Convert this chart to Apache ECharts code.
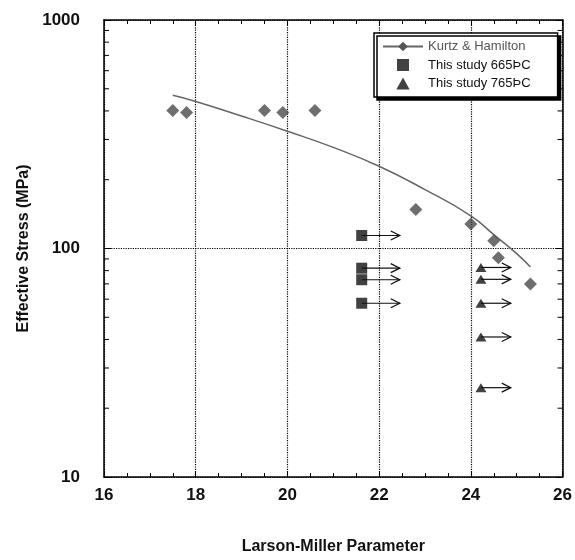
<!DOCTYPE html>
<html>
<head>
<meta charset="utf-8">
<script src="https://cdn.jsdelivr.net/npm/echarts@6/dist/echarts.min.js"></script>
<style>
html, body { margin: 0; background: #fff; }
#main { width: 575px; height: 560px; }
</style>
</head>
<body>
<div id="main"></div>
<script>
// Kurtz & Hamilton data points
const kurtzX = [17.5, 17.8, 19.5, 19.9, 20.6, 22.8, 24.0, 24.5, 24.6, 25.3]
const kurtzY = [402, 394, 402, 394, 402, 148, 128, 108, 91, 70]
// fitted curve
const fitX = [17.5, 18, 19, 20, 21, 22, 23, 24, 24.5, 25, 25.3]
const fitY = [468, 440, 380, 326, 277, 229, 181, 139, 115, 95, 83]
// this study 665 (runout, arrows)
const sqX = [21.62, 21.62, 21.62, 21.62]
const sqY = [114, 82, 73, 57.6]
const sqArrowEnd = [22.45, 22.45, 22.45, 22.45]
// this study 765
const triX = [24.22, 24.22, 24.22, 24.22, 24.22]
const triY = [82.6, 73.3, 57.6, 41, 24.6]
const triArrowEnd = [24.87, 24.87, 24.87, 24.87, 24.87]
// log minor ticks
const yMinor = [20, 30, 40, 50, 60, 70, 80, 90, 200, 300, 400, 500, 600, 700, 800, 900]

const font = 'Liberation Sans, Arial, sans-serif'

function arrowItem(params, api) {
  const s = api.coord([api.value(0), api.value(1)])
  const e = api.coord([api.value(2), api.value(1)])
  return {
    type: 'group',
    children: [
      { type: 'line', shape: { x1: s[0], y1: s[1], x2: e[0], y2: e[1] }, style: { stroke: '#111', lineWidth: 1.2 } },
      {
        type: 'polyline',
        shape: { points: [[e[0] - 9, e[1] - 4.5], [e[0], e[1]], [e[0] - 9, e[1] + 4.5]] },
        style: { stroke: '#111', fill: null, lineWidth: 1.3 },
      },
    ],
  }
}

function minorTickItem(params, api) {
  const cs = params.coordSys
  const p = api.coord([16, api.value(1)])
  return {
    type: 'group',
    children: [
      { type: 'line', shape: { x1: cs.x, y1: p[1], x2: cs.x + 5, y2: p[1] }, style: { stroke: '#000', lineWidth: 1 } },
      { type: 'line', shape: { x1: cs.x + cs.width - 5, y1: p[1], x2: cs.x + cs.width, y2: p[1] }, style: { stroke: '#000', lineWidth: 1 } },
    ],
  }
}

const myChart = echarts.init(document.getElementById('main'))
myChart.setOption({
  animation: false,
  backgroundColor: '#fff',
  grid: { left: 104, right: 10, top: 20, bottom: 80, containLabel: false },
  legend: {
    orient: 'vertical',
    left: 374,
    top: 33,
    padding: [7, 27, 7, 8],
    itemWidth: 40,
    itemHeight: 12,
    itemGap: 5.5,
    symbolKeepAspect: true,
    backgroundColor: '#fff',
    borderColor: '#000',
    borderWidth: 1.5,
    borderRadius: 0,
    shadowColor: '#000',
    shadowBlur: 0,
    shadowOffsetX: 3,
    shadowOffsetY: 3,
    textStyle: { fontFamily: font, fontSize: 13, color: '#111' },
    data: [
      { name: 'Kurtz & Hamilton', textStyle: { color: '#555' } },
      { name: 'This study 665ÞC', icon: 'path://M0,0h10v10h-10z' },
      { name: 'This study 765ÞC', icon: 'path://M5,1L10,10L0,10z' },
    ],
  },
  xAxis: [
    {
      type: 'value',
      min: 16,
      max: 26,
      interval: 2,
      name: 'Larson-Miller Parameter',
      nameLocation: 'middle',
      nameGap: 62,
      nameTextStyle: { fontFamily: font, fontSize: 16, fontWeight: 'bold', color: '#111' },
      axisLine: { lineStyle: { color: '#000', width: 1.5 } },
      axisTick: { inside: true, length: 6, lineStyle: { color: '#000' } },
      minorTick: { show: true, splitNumber: 4, length: 4, lineStyle: { color: '#000' } },
      axisLabel: { fontFamily: font, fontSize: 17, fontWeight: 'bold', color: '#111', margin: 10 },
      splitLine: { show: true, lineStyle: { type: 'dotted', color: '#000', width: 1.2 } },
    },
    {
      type: 'value',
      position: 'top',
      min: 16,
      max: 26,
      interval: 2,
      axisLine: { lineStyle: { color: '#000', width: 1.5 } },
      axisTick: { inside: true, length: 6, lineStyle: { color: '#000' } },
      minorTick: { show: true, splitNumber: 4, length: 4, lineStyle: { color: '#000' } },
      axisLabel: { show: false },
      splitLine: { show: false },
    },
  ],
  yAxis: [
    {
      type: 'log',
      logBase: 10,
      min: 10,
      max: 1000,
      name: 'Effective Stress (MPa)',
      nameLocation: 'middle',
      nameGap: 64,
      nameTextStyle: { fontFamily: font, fontSize: 16, fontWeight: 'bold', color: '#111' },
      axisLine: { lineStyle: { color: '#000', width: 1.5 } },
      axisTick: { inside: true, length: 7, lineStyle: { color: '#000' } },
      axisLabel: {
        fontFamily: font,
        fontSize: 17,
        fontWeight: 'bold',
        color: '#111',
        margin: 24,
        formatter: (v) => String(Math.round(v)),
      },
      splitLine: { show: true, lineStyle: { type: 'dotted', color: '#000', width: 1.2 } },
    },
    {
      type: 'log',
      logBase: 10,
      min: 10,
      max: 1000,
      position: 'right',
      axisLine: { lineStyle: { color: '#000', width: 1.5 } },
      axisTick: { inside: true, length: 7, lineStyle: { color: '#000' } },
      axisLabel: { show: false },
      splitLine: { show: false },
    },
  ],
  series: [
    {
      name: 'Kurtz & Hamilton',
      type: 'line',
      smooth: true,
      symbol: 'diamond',
      symbolSize: 11,
      showSymbol: false,
      itemStyle: { color: '#555' },
      lineStyle: { color: '#666', width: 1.5 },
      data: fitX.map((x, i) => [x, fitY[i]]),
      z: 3,
    },
    {
      name: 'Kurtz & Hamilton',
      type: 'scatter',
      symbol: 'diamond',
      symbolSize: 13,
      itemStyle: { color: '#4a4a4a' },
      data: kurtzX.map((x, i) => [x, kurtzY[i]]),
      z: 4,
    },
    {
      name: 'sqArrows',
      type: 'custom',
      renderItem: arrowItem,
      data: sqX.map((x, i) => [x, sqY[i], sqArrowEnd[i]]),
      z: 3,
    },
    {
      name: 'triArrows',
      type: 'custom',
      renderItem: arrowItem,
      data: triX.map((x, i) => [x, triY[i], triArrowEnd[i]]),
      z: 3,
    },
    {
      name: 'This study 665ÞC',
      type: 'scatter',
      symbol: 'rect',
      symbolSize: 11,
      itemStyle: { color: '#111' },
      data: sqX.map((x, i) => [x, sqY[i]]),
      z: 5,
    },
    {
      name: 'This study 765ÞC',
      type: 'scatter',
      symbol: 'triangle',
      symbolSize: [11, 9],
      itemStyle: { color: '#111' },
      data: triX.map((x, i) => [x, triY[i]]),
      z: 5,
    },
    {
      name: 'yMinorTicks',
      type: 'custom',
      renderItem: minorTickItem,
      silent: true,
      data: yMinor.map((v) => [16, v]),
      z: 6,
    },
  ],
})
window.addEventListener('resize', () => {
  myChart.resize()
})
</script>
</body>
</html>
